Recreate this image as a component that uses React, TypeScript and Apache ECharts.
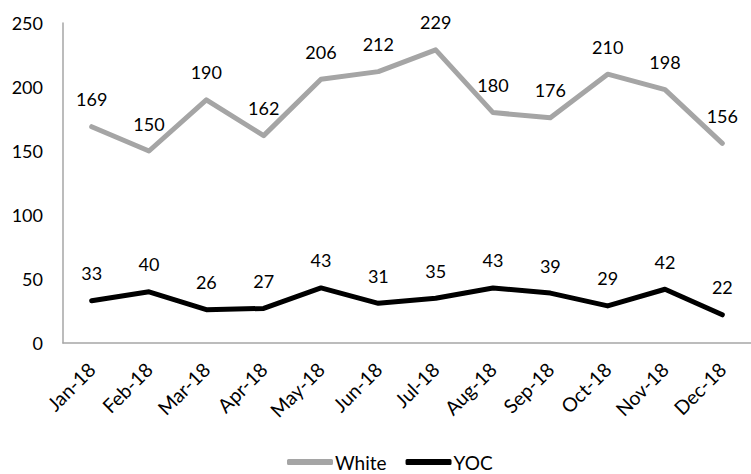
import React, { useEffect, useRef } from "react";
import * as echarts from "echarts";

const months = ["Jan-18", "Feb-18", "Mar-18", "Apr-18", "May-18", "Jun-18", "Jul-18", "Aug-18", "Sep-18", "Oct-18", "Nov-18", "Dec-18"];
const whiteValues = [169, 150, 190, 162, 206, 212, 229, 180, 176, 210, 198, 156];
const yocValues = [33, 40, 26, 27, 43, 31, 35, 43, 39, 29, 42, 22];
const seriesNames = ["White", "YOC"];

const FONT = "Lato, 'Liberation Sans', sans-serif";

export default function App() {
  const ref = useRef<HTMLDivElement>(null);
  useEffect(() => {
    if (!ref.current) return;
    const chart = echarts.init(ref.current, undefined, { renderer: "svg" });
    const mkSeries = (name: string, data: number[], color: string) => ({
      name,
      type: "line",
      data,
      symbol: "circle",
      symbolSize: 1,
      itemStyle: { color: "rgba(0,0,0,0)" },
      lineStyle: { color, width: 5, cap: "round", join: "round" },
      label: {
        show: true,
        position: "top",
        distance: 18,
        color: "#000",
        fontSize: 18,
        fontFamily: FONT,
      },
      z: 3,
    });
    chart.setOption({
      animation: false,
      backgroundColor: "#fff",
      grid: { left: 63, top: 23, width: 694, height: 320, containLabel: false },
      xAxis: {
        type: "category",
        data: months,
        boundaryGap: true,
        axisLine: { show: true, lineStyle: { color: "#A6A6A6", width: 1.5 } },
        axisTick: { show: false },
        axisLabel: {
          rotate: 45,
          margin: 23,
          color: "#000",
          fontSize: 19.5,
          fontFamily: FONT,
          interval: 0,
        },
        splitLine: { show: false },
      },
      yAxis: {
        type: "value",
        min: 0,
        max: 250,
        interval: 50,
        axisLine: { show: true, lineStyle: { color: "#A6A6A6", width: 1.5 } },
        axisTick: { show: false },
        axisLabel: { margin: 20, color: "#000", fontSize: 18, fontFamily: FONT },
        splitLine: { show: false },
      },
      legend: {
        data: [
          { name: seriesNames[0], icon: "roundRect", itemStyle: { color: "#A5A5A5" } },
          { name: seriesNames[1], icon: "roundRect", itemStyle: { color: "#000000" } },
        ],
        left: 287,
        top: 452,
        padding: 0,
        itemWidth: 46,
        itemHeight: 6,
        itemGap: 19,
        textStyle: { color: "#000", fontSize: 19, lineHeight: 20, fontFamily: FONT, padding: [0, 0, 0, -3] },
      },
      series: [
        mkSeries(seriesNames[0], whiteValues, "#A5A5A5"),
        mkSeries(seriesNames[1], yocValues, "#000000"),
      ],
    });
    return () => chart.dispose();
  }, []);
  return <div ref={ref} style={{ position: "fixed", left: 0, top: 0, width: 751, height: 474 }} />;
}
